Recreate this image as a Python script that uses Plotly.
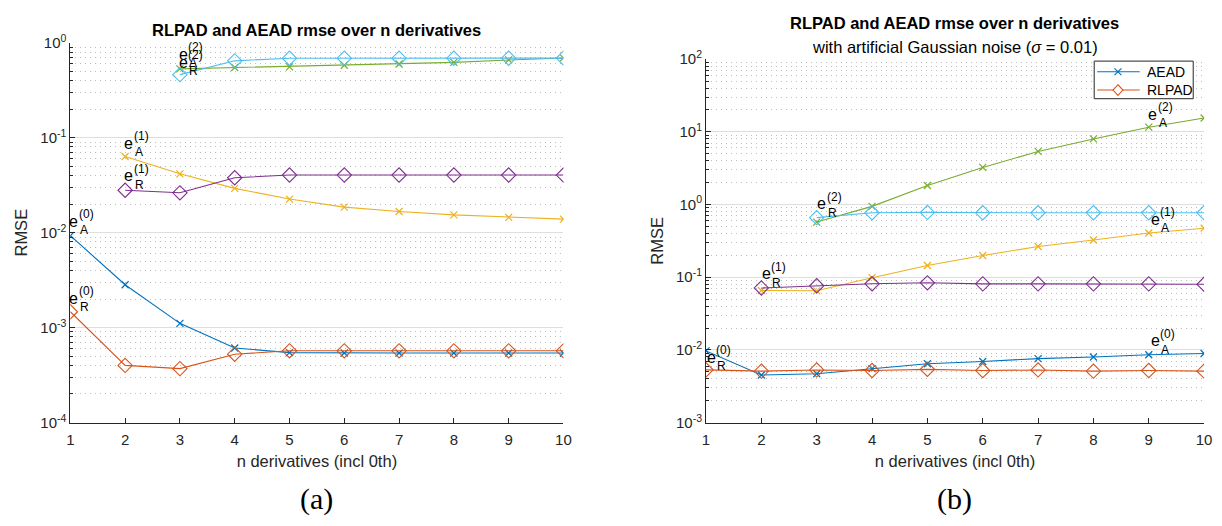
import math
import plotly.graph_objects as go

# ---- data -----------------------------------------------------------------
n = [1, 2, 3, 4, 5, 6, 7, 8, 9, 10]

# (a) noise-free
a_aead0 = [9.3e-3, 2.83e-3, 1.11e-3, 6.1e-4, 5.45e-4, 5.4e-4, 5.4e-4, 5.4e-4, 5.4e-4, 5.4e-4]
a_rlpad0 = [1.47e-3, 4.0e-4, 3.7e-4, 5.25e-4, 5.7e-4, 5.7e-4, 5.7e-4, 5.7e-4, 5.7e-4, 5.7e-4]
a_aead1 = [0.0634, 0.0417, 0.0293, 0.0226, 0.0186, 0.0167, 0.0154, 0.0145, 0.0139]
a_rlpad1 = [0.028, 0.0263, 0.0379, 0.0405, 0.0405, 0.0405, 0.0405, 0.0405, 0.0405]
a_aead2 = [0.532, 0.549, 0.557, 0.58, 0.598, 0.622, 0.66, 0.693]
a_rlpad2 = [0.462, 0.646, 0.688, 0.688, 0.688, 0.688, 0.688, 0.69]

# (b) with Gaussian noise, sigma = 0.01
b_aead0 = [0.00968, 0.00451, 0.0047, 0.00553, 0.00645, 0.00692, 0.00759, 0.00798, 0.00857, 0.00893]
b_rlpad0 = [0.00531, 0.0051, 0.0053, 0.0052, 0.0054, 0.0052, 0.0053, 0.0051, 0.0052, 0.0051]
b_aead1 = [0.0656, 0.065, 0.0986, 0.145, 0.199, 0.265, 0.325, 0.406, 0.473]
b_rlpad1 = [0.0711, 0.0763, 0.0812, 0.0838, 0.081, 0.081, 0.081, 0.081, 0.080]
b_aead2 = [0.574, 0.944, 1.83, 3.24, 5.38, 8.0, 11.6, 15.5]
b_rlpad2 = [0.66, 0.77, 0.78, 0.77, 0.77, 0.77, 0.77, 0.77]

# curve labels: (order, method, n position, rmse position)
label_order = ["0", "0", "1", "1", "2", "2"]
label_method = ["A", "R", "A", "R", "A", "R"]
a_label_n = [1.063, 1.063, 2.07, 2.07, 3.06, 3.06]
a_label_v = [0.0132, 0.00205, 0.0879, 0.0397, 0.755, 0.626]
b_label_n = [9.12, 1.09, 9.12, 2.09, 9.07, 3.09]
b_label_v = [0.0134, 0.00798, 0.629, 0.111, 17.5, 1.02]

legend_names = ["AEAD", "RLPAD"]

y_ticks_a = [1e-4, 1e-3, 1e-2, 1e-1, 1e0]
y_ticks_b = [1e-3, 1e-2, 1e-1, 1e0, 1e1, 1e2]

# ---- styling --------------------------------------------------------------
C_BLUE, C_RED, C_YEL = "#0072BD", "#D95319", "#EDB120"
C_PUR, C_GRN, C_CYA = "#7E2F8E", "#77AC30", "#4DBEEE"
FONT = "Liberation Sans, Arial, sans-serif"
SERIF = "Liberation Serif, DejaVu Serif, serif"
AX = "#262626"
W, H = 1222, 526


def px_x(p):
    return p / W


def px_y(p):
    return 1 - p / H


def power_text(v):
    e = int(round(math.log10(v)))
    return f"10<sup>{e}</sup>"


def minor_vals(lo, hi):
    out = []
    for d in range(lo, hi):
        for k in range(2, 10):
            out.append(k * 10.0 ** d)
    return out


def line(xs, ys, color, method, xa, ya):
    if method == "A":
        marker = dict(symbol="x-thin", size=7, color=color,
                      line=dict(width=1.2, color=color))
    else:
        marker = dict(symbol="diamond-open", size=11, color=color,
                      line=dict(width=1.1, color=color))
    return go.Scatter(x=xs, y=ys, mode="lines+markers", xaxis=xa, yaxis=ya,
                      line=dict(color=color, width=1.1), marker=marker,
                      showlegend=False)


fig = go.Figure()
fig.add_trace(line(n, a_aead0, C_BLUE, "A", "x", "y"))
fig.add_trace(line(n, a_rlpad0, C_RED, "R", "x", "y"))
fig.add_trace(line(n[1:], a_aead1, C_YEL, "A", "x", "y"))
fig.add_trace(line(n[1:], a_rlpad1, C_PUR, "R", "x", "y"))
fig.add_trace(line(n[2:], a_aead2, C_GRN, "A", "x", "y"))
fig.add_trace(line(n[2:], a_rlpad2, C_CYA, "R", "x", "y"))

fig.add_trace(line(n, b_aead0, C_BLUE, "A", "x2", "y2"))
fig.add_trace(line(n, b_rlpad0, C_RED, "R", "x2", "y2"))
fig.add_trace(line(n[1:], b_aead1, C_YEL, "A", "x2", "y2"))
fig.add_trace(line(n[1:], b_rlpad1, C_PUR, "R", "x2", "y2"))
fig.add_trace(line(n[2:], b_aead2, C_GRN, "A", "x2", "y2"))
fig.add_trace(line(n[2:], b_rlpad2, C_CYA, "R", "x2", "y2"))


def xaxis(domain):
    return dict(domain=domain, range=[1, 10], tickvals=n, ticks="inside",
                ticklen=5, tickcolor=AX, showline=True, linecolor=AX,
                linewidth=1, showgrid=False, zeroline=False, mirror=False,
                ticklabelstandoff=3,
                tickfont=dict(family=FONT, size=15, color=AX),
                title=dict(text="n derivatives (incl 0th)", standoff=8,
                           font=dict(family=FONT, size=16.5, color=AX)))


def yaxis(domain, anchor, ticks, lo, hi):
    return dict(domain=domain, anchor=anchor, type="log", range=[lo, hi],
                tickvals=ticks, ticktext=[power_text(t) for t in ticks],
                ticks="inside", ticklen=5, tickcolor=AX, showline=True,
                linecolor=AX, linewidth=1, zeroline=False, mirror=False,
                showgrid=True, gridcolor="#dedede", gridwidth=1,
                tickfont=dict(family=FONT, size=15, color=AX),
                minor=dict(tickvals=minor_vals(lo, hi), ticks="inside",
                           ticklen=3, tickcolor=AX, showgrid=True,
                           gridcolor="#bdbdbd", gridwidth=1,
                           griddash="1px,4px"),
                title=dict(text="RMSE", standoff=8,
                           font=dict(family=FONT, size=16.5, color=AX)))


ann = []
shapes = []


def curve_labels(xref, yref, ns, vs):
    for k in range(len(ns)):
        ly = math.log10(vs[k])
        base = dict(x=ns[k], y=ly, xref=xref, yref=yref, showarrow=False)
        ann.append(dict(base, text="e", xanchor="center", yanchor="middle",
                        font=dict(family=FONT, size=16, color="#000")))
        ann.append(dict(base, text=f"({label_order[k]})", xanchor="left",
                        yanchor="middle", xshift=3, yshift=7,
                        font=dict(family=FONT, size=12, color="#000")))
        ann.append(dict(base, text=label_method[k], xanchor="left",
                        yanchor="middle", xshift=4, yshift=-9,
                        font=dict(family=FONT, size=12, color="#000")))


curve_labels("x", "y", a_label_n, a_label_v)
curve_labels("x2", "y2", b_label_n, b_label_v)

# ---- legend box of panel (b), drawn in page pixels -------------------------
LX0, LX1, LY0, LY1 = 1101, 1201, 52, 91
shapes.append(dict(type="rect", xref="paper", yref="paper",
                   x0=px_x(LX0), x1=px_x(LX1), y0=px_y(LY1), y1=px_y(LY0),
                   line=dict(color=AX, width=1), fillcolor="white",
                   layer="above"))
for i, (nm, col) in enumerate(zip(legend_names, [C_BLUE, C_RED])):
    cy = 63 + 19 * i
    cx = 1125
    shapes.append(dict(type="line", xref="paper", yref="paper",
                       x0=px_x(1104), x1=px_x(1147), y0=px_y(cy), y1=px_y(cy),
                       line=dict(color=col, width=1.1), layer="above"))
    if i == 0:
        for s in (-1, 1):
            shapes.append(dict(type="line", xref="paper", yref="paper",
                               x0=px_x(cx - 3.5), x1=px_x(cx + 3.5),
                               y0=px_y(cy - 3.5 * s), y1=px_y(cy + 3.5 * s),
                               line=dict(color=col, width=1.2),
                               layer="above"))
    else:
        path = (f"M {px_x(cx)},{px_y(cy - 5.5)} L {px_x(cx + 5)},{px_y(cy)} "
                f"L {px_x(cx)},{px_y(cy + 5.5)} L {px_x(cx - 5)},{px_y(cy)} Z")
        shapes.append(dict(type="path", xref="paper", yref="paper", path=path,
                           line=dict(color=col, width=1.1),
                           fillcolor="white", layer="above"))
    ann.append(dict(text=nm, x=px_x(1152), y=px_y(cy), xref="paper",
                    yref="paper", showarrow=False, xanchor="left",
                    yanchor="middle",
                    font=dict(family=FONT, size=14, color="#000")))

TITLE = "RLPAD and AEAD rmse over n derivatives"
ann += [
    dict(text=f"<b>{TITLE}</b>", x=px_x(316), y=px_y(20), xref="paper",
         yref="paper", showarrow=False, xanchor="center", yanchor="middle",
         font=dict(family=FONT, size=16.5, color="#000")),
    dict(text=f"<b>{TITLE}</b>", x=px_x(960), y=px_y(12), xref="paper",
         yref="paper", showarrow=False, xanchor="center", yanchor="middle",
         font=dict(family=FONT, size=16.5, color="#000")),
    dict(text="with artificial Gaussian noise (<i>σ</i> = 0.01)", x=px_x(960),
         y=px_y(37), xref="paper", yref="paper", showarrow=False,
         xanchor="center", yanchor="middle",
         font=dict(family=FONT, size=16.5, color="#000")),
    dict(text="(a)", x=px_x(316), y=px_y(506), xref="paper", yref="paper",
         showarrow=False, xanchor="center", yanchor="middle",
         font=dict(family=SERIF, size=30, color="#000")),
    dict(text="(b)", x=px_x(960), y=px_y(506), xref="paper", yref="paper",
         showarrow=False, xanchor="center", yanchor="middle",
         font=dict(family=SERIF, size=30, color="#000")),
]

fig.update_layout(
    width=W, height=H, margin=dict(l=0, r=0, t=0, b=0),
    paper_bgcolor="white", plot_bgcolor="white",
    xaxis=dict(xaxis([px_x(67), px_x(565)]), anchor="y"),
    yaxis=yaxis([px_y(427), px_y(33)], "x", y_ticks_a, -4, 0),
    xaxis2=dict(xaxis([px_x(709), px_x(1212)]), anchor="y2"),
    yaxis2=yaxis([px_y(427), px_y(50)], "x2", y_ticks_b, -3, 2),
    annotations=ann,
    shapes=shapes,
    showlegend=False,
)

# figure fills the page exactly: drop the default body margin
fig.write_html(
    "out.html",
    post_script="document.body.style.margin='0';"
                "document.body.style.overflow='hidden';",
)
